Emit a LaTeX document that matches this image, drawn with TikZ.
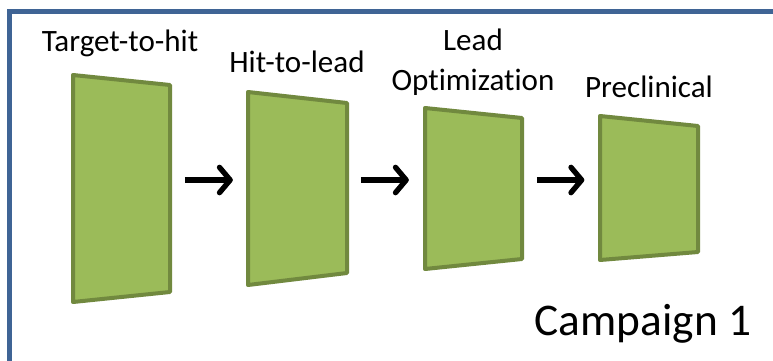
\documentclass[tikz,border=0pt]{standalone}
\usepackage{fontspec}
\setmainfont{Carlito}[Ligatures=NoCommon]
\usetikzlibrary{arrows.meta}

\definecolor{frameblue}{HTML}{3F6495}
\definecolor{stagefill}{HTML}{9BBB59}
\definecolor{stageline}{HTML}{71893F}

\begin{document}
\begin{tikzpicture}[x=0.75pt, y=-0.75pt, thick,
  stage/.style = {draw=stageline, fill=stagefill, line width=3pt, line join=round},
  slot/.style = {inner sep=0pt, outer sep=0pt, minimum width=73pt, minimum height=1pt},
  title/.style = {anchor=base, font=\fontsize{23.3}{30}\selectfont, align=center},
  arr/.style = {-{Straight Barb[round, length=8pt, width=19pt]}, line width=4pt, shorten <=11pt, shorten >=12pt}]
\useasboundingbox (0,0) rectangle (773,360);
\clip (0,0) rectangle (773,360);
\draw[frameblue, line width=3.75pt] (9.5,11.5) rectangle (800,400);

\draw[stage] (73,75) -- (170,85) -- (170,292) -- (73,302) -- cycle;
\draw[stage] (248,92) -- (347,103) -- (347,273) -- (248,285) -- cycle;
\draw[stage] (425,108) -- (522,118) -- (522,259) -- (425,269) -- cycle;
\draw[stage] (600,116) -- (698,126) -- (698,252) -- (600,260) -- cycle;

\node[slot] (s1) at (121.5,180) {};
\node[slot] (s2) at (297.5,180) {};
\node[slot] (s3) at (473.5,180) {};
\node[slot] (s4) at (649,180) {};

\node[title] (l1) at (120,52) {Target-to-hit};
\node[title] (l2) at (297,73) {Hit-to-lead};
\node[title] (l3) at (473,90) {Lead\\Optimization};
\node[title] (l4) at (649,97) {Preclinical};
\node[anchor=base, font=\fontsize{34}{40}\selectfont] (camp) at (643,335) {Campaign 1};

\draw[arr] (s1) -- (s2);
\draw[arr] (s2) -- (s3);
\draw[arr] (s3) -- (s4);

\end{tikzpicture}
\end{document}
